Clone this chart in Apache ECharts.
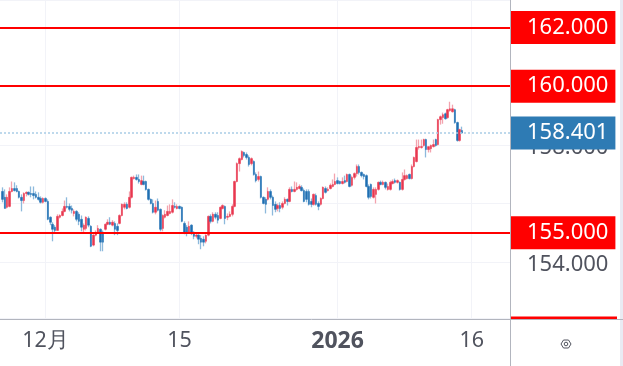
<!DOCTYPE html>
<html><head><meta charset="utf-8">
<style>html,body{margin:0;padding:0;background:#fff}#c{width:623px;height:366px;filter:blur(0.5px)}</style>
<script src="https://cdn.jsdelivr.net/npm/echarts@6/dist/echarts.min.js"></script>
</head><body><div id="c"></div>
<script>
// Each row: open, close, low, high
const candles = [
[156.41,156.14,156.04,156.55],[156.21,155.83,155.83,156.48],[155.87,156.21,155.83,156.31],[155.90,156.41,155.87,156.55],[156.41,156.51,156.38,156.75],
[156.51,156.44,156.41,156.72],[156.51,156.41,156.38,156.62],[156.41,156.21,156.17,156.44],[156.21,156.10,155.73,156.31],[156.10,156.34,156.00,156.38],
[156.34,156.38,156.24,156.41],[156.38,156.31,156.27,156.41],[156.34,156.31,156.21,156.58],[156.34,156.27,156.14,156.58],[156.31,156.21,156.17,156.41],
[156.21,156.14,156.10,156.38],[156.17,156.04,156.00,156.24],[156.04,156.17,156.00,156.21],[156.17,156.07,156.04,156.21],[156.07,155.46,155.43,156.14],
[155.53,155.36,155.26,155.56],[155.29,155.12,154.71,155.36],[155.19,155.08,155.02,155.26],[155.08,155.56,155.08,155.63],[155.53,155.59,155.49,155.63],
[155.59,155.73,155.56,155.83],[155.73,155.90,155.70,156.10],[155.90,155.87,155.83,156.21],[155.90,155.80,155.73,156.00],[155.83,155.77,155.66,155.93],
[155.66,155.73,155.56,155.80],[155.73,155.46,155.39,155.77],[155.63,155.39,155.26,155.70],[155.46,155.19,155.05,155.59],[155.12,155.26,155.02,155.32],
[155.15,155.53,155.08,155.56],[155.49,155.26,155.19,155.56],[155.22,154.54,154.51,155.26],[154.58,154.92,154.54,154.95],[154.92,155.02,154.88,155.08],
[155.02,155.15,154.98,155.26],[155.12,154.68,154.37,155.15],[155.02,154.68,154.37,155.08],[155.12,155.29,155.08,155.32],[155.29,155.36,155.26,155.46],
[155.36,155.29,155.26,155.53],[155.26,155.36,155.22,155.43],[155.32,155.12,154.92,155.39],[155.22,155.08,154.92,155.32],[155.32,155.59,155.29,155.63],
[155.59,155.97,155.56,156.00],[155.87,155.97,155.80,156.04],[155.97,155.83,155.80,156.04],[155.87,156.21,155.83,156.41],[156.21,156.89,156.17,156.92],
[156.85,156.89,156.82,156.95],[156.89,156.82,156.78,156.99],[156.82,156.75,156.68,156.99],[156.65,156.78,156.62,156.95],[156.75,156.65,156.62,156.95],
[156.75,156.48,156.44,156.78],[156.48,156.14,156.10,156.51],[156.14,156.00,155.97,156.17],[156.00,155.70,155.66,156.14],[155.70,155.87,155.63,156.10],
[156.07,155.77,155.73,156.17],[155.80,155.12,155.05,155.83],[155.15,155.59,155.05,155.63],[155.53,155.63,155.49,155.77],[155.59,155.73,155.56,155.93],
[155.66,155.73,155.63,155.97],[155.70,155.93,155.66,156.14],[155.90,155.87,155.83,156.04],[155.83,155.90,155.80,155.97],[155.90,155.83,155.80,155.93],
[155.87,155.39,155.36,155.90],[155.32,155.02,154.95,155.39],[155.19,155.02,154.88,155.26],[155.02,155.22,154.98,155.39],[155.26,155.02,154.92,155.29],
[155.02,154.88,154.78,155.05],[154.88,154.92,154.81,154.98],[154.92,154.78,154.61,154.95],[154.81,154.68,154.44,154.92],[154.78,154.68,154.54,154.88],
[154.71,154.92,154.64,154.95],[154.92,155.56,154.88,155.59],[155.56,155.39,155.32,155.63],[155.39,155.63,155.36,155.70],[155.63,155.53,155.46,155.70],
[155.59,155.43,155.32,155.70],[155.49,155.87,155.46,155.90],[155.83,155.93,155.80,155.97],[155.90,155.49,155.29,155.93],[155.53,155.56,155.43,155.66],
[155.56,155.63,155.53,155.73],[155.63,155.90,155.56,155.97],[155.90,156.75,155.87,156.78],[156.75,157.36,156.72,157.40],[157.36,157.53,157.09,157.57],
[157.50,157.77,157.47,157.81],[157.74,157.64,157.57,157.77],[157.67,157.57,157.50,157.74],[157.57,157.33,157.26,157.64],[157.36,157.53,157.30,157.57],
[157.43,156.99,156.95,157.47],[156.99,156.78,156.72,157.06],[156.82,156.92,156.75,157.09],[156.92,156.21,156.17,156.95],[156.21,156.00,155.97,156.24],
[156.14,155.97,155.66,156.21],[156.14,156.41,156.10,156.55],[156.41,156.21,156.14,156.48],[156.21,155.93,155.59,156.27],[155.97,155.80,155.70,156.07],
[155.83,155.93,155.73,156.00],[155.93,155.83,155.70,156.04],[155.87,156.00,155.80,156.07],[156.00,156.14,155.97,156.21],[156.14,156.07,155.93,156.17],
[156.07,156.48,156.04,156.55],[156.48,156.41,156.38,156.58],[156.41,156.48,156.38,156.75],[156.48,156.55,156.44,156.72],[156.51,156.58,156.48,156.65],
[156.55,156.44,156.41,156.62],[156.44,156.07,156.04,156.51],[156.41,156.14,156.04,156.48],[156.41,155.97,155.93,156.48],[156.07,155.97,155.87,156.17],
[155.97,156.31,155.93,156.34],[156.27,155.97,155.93,156.34],[156.00,155.90,155.77,156.07],[155.97,156.17,155.93,156.21],[156.17,156.55,156.14,156.58],
[156.51,156.38,156.34,156.58],[156.44,156.48,156.41,156.55],[156.51,156.62,156.48,156.68],[156.58,156.65,156.55,156.82],[156.65,156.75,156.62,157.02],
[156.78,156.68,156.65,156.89],[156.75,156.68,156.65,156.78],[156.68,156.75,156.65,156.89],[156.78,156.72,156.68,156.95],[156.75,156.99,156.72,157.02],
[156.99,156.58,156.55,157.02],[156.62,156.89,156.58,156.95],[156.89,157.02,156.82,157.06],[157.02,157.26,156.92,157.33],[157.26,157.06,156.99,157.33],
[157.06,156.95,156.89,157.09],[156.99,156.92,156.82,157.02],[156.95,156.58,156.55,156.99],[156.58,156.21,156.14,156.65],[156.65,156.24,156.17,156.68],
[156.21,156.48,156.17,156.55],[156.31,156.48,156.00,156.55],[156.48,156.72,156.44,156.75],[156.72,156.65,156.62,156.78],[156.65,156.72,156.62,156.78],
[156.72,156.55,156.48,156.75],[156.48,156.58,156.44,156.68],[156.48,156.72,156.44,156.78],[156.68,156.75,156.65,156.82],[156.78,156.72,156.68,156.85],
[156.72,156.78,156.68,156.82],[156.72,156.48,156.44,156.75],[156.48,156.82,156.44,157.06],[156.82,156.95,156.78,157.16],[156.85,156.95,156.82,156.99],
[156.99,156.85,156.82,157.02],[156.85,157.26,156.82,157.33],[157.26,157.57,157.23,157.60],[157.43,157.91,157.40,158.18],[157.91,157.94,157.84,158.18],
[157.91,157.94,157.87,158.18],[157.98,158.18,157.94,158.21],[158.18,157.84,157.57,158.21],[157.84,157.94,157.74,157.94],[157.87,157.98,157.74,158.01],
[157.94,158.01,157.91,158.18],[158.18,157.98,157.94,158.21],[158.01,158.86,157.98,158.89],[158.86,158.96,158.69,159.00],[158.93,159.03,158.72,159.10],
[159.06,158.89,158.86,159.10],[158.93,159.20,158.89,159.23],[159.17,159.23,159.13,159.47],[159.13,159.23,159.10,159.37],[159.20,158.76,158.72,159.23],
[158.76,158.15,158.11,158.79],[158.15,158.52,158.11,158.55],[158.49,158.40,158.38,158.62]
];
const slotCount = 214;
const timeTickSlots = [19, 75, 141, 197];
const timeTickLabels = ['12月', '15', '2026', '16'];
const priceTicks = [154, 158];
const alertLevels = [162, 160, 155];
const lastPrice = 158.401;

const UP='#e8374f', DOWN='#1f6fb2', UPW='#f3a3ae', DOWNW='#8db9dc', GREY='#50535e', FRAME='#b2b5be';
const cats = Array.from({length:slotCount},(_,i)=>{const k=timeTickSlots.indexOf(i);return k<0?'':timeTickLabels[k];});
const wicks = [[]].concat(candles);
const bodies = [[]].concat(candles.map(r=>[r[0],r[1],Math.min(r[0],r[1]),Math.max(r[0],r[1])]));
const tagLabel = (bg)=>({show:true,position:'end',distance:0,formatter:p=>Number(p.value).toFixed(3),color:'#fff',
  fontFamily:'Noto Sans',fontSize:22,backgroundColor:bg,padding:[3,7,3,17],lineHeight:27});
const levelLines = alertLevels.map(v=>({yAxis:v,lineStyle:{color:'#ff0000',width:2,type:'solid'},label:tagLabel('#ff0000')}));
const lastLine = {yAxis:lastPrice,lineStyle:{color:'#a9cde6',width:1.5,type:[2,2]},label:tagLabel('#2e7bb4')};
const isTick = i => timeTickSlots.indexOf(i)>=0;

const chart = echarts.init(document.getElementById('c'),null,{renderer:'canvas'});
chart.setOption({
  animation:false,backgroundColor:'#fff',
  grid:{left:-1.2,right:113,top:-0.8,bottom:47.3,containLabel:false},
  xAxis:{type:'category',data:cats,boundaryGap:false,
    axisLine:{show:false},axisTick:{show:false},
    splitLine:{show:true,interval:i=>isTick(i),lineStyle:{color:'#f2f3f8',width:1}},
    axisLabel:{interval:i=>isTick(i),margin:11,color:GREY,fontFamily:'Noto Sans',fontSize:21.5,
      formatter:v=>v==='2026'?'{b|2026}':v,rich:{b:{fontWeight:'bold',fontSize:23,color:GREY,fontFamily:'Noto Sans'}}}},
  yAxis:{type:'value',position:'right',min:152.07,max:162.94,scale:true,
    axisLine:{show:false},axisTick:{show:false},
    splitLine:{show:true,lineStyle:{color:'#f2f3f8',width:1}},
    axisLabel:{customValues:priceTicks,margin:17,color:GREY,fontFamily:'Noto Sans',fontSize:22,
      formatter:v=>'{p|'+Number(v).toFixed(3)+'}',
      rich:{p:{fontFamily:'Noto Sans',fontSize:22,color:GREY,padding:[6,0,0,0]}}}},
  series:[
    {type:'candlestick',data:wicks,barWidth:1,clip:false,z:2,
      itemStyle:{color:UPW,color0:DOWNW,borderColor:UPW,borderColor0:DOWNW,borderWidth:1.3}},
    {type:'candlestick',data:bodies,barWidth:2,clip:false,z:3,
      itemStyle:{color:UP,color0:DOWN,borderColor:UP,borderColor0:DOWN,borderWidth:0.5},
      markLine:{silent:true,symbol:'none',animation:false,z:6,precision:3,data:[lastLine].concat(levelLines)}}
  ],
  graphic:[
    {type:'rect',z:50,shape:{x:510,y:316.5,width:107,height:3},style:{fill:'#ff0000'}},
    {type:'rect',z:40,shape:{x:620,y:0,width:3,height:366},style:{fill:'#e9ebf3'}},
    {type:'line',z:51,shape:{x1:0,y1:319.5,x2:623,y2:319.5},style:{stroke:FRAME,lineWidth:1}},
    {type:'line',z:51,shape:{x1:510.5,y1:0,x2:510.5,y2:366},style:{stroke:FRAME,lineWidth:1}},
    {type:'polygon',z:51,shape:{points:[[561,344],[563.5,340],[568.5,340],[571,344],[568.5,348],[563.5,348]]},style:{fill:'none',stroke:GREY,lineWidth:1}},
    {type:'circle',z:51,shape:{cx:566,cy:344,r:1.8},style:{fill:'none',stroke:GREY,lineWidth:1}}
  ]
});
</script></body></html>
